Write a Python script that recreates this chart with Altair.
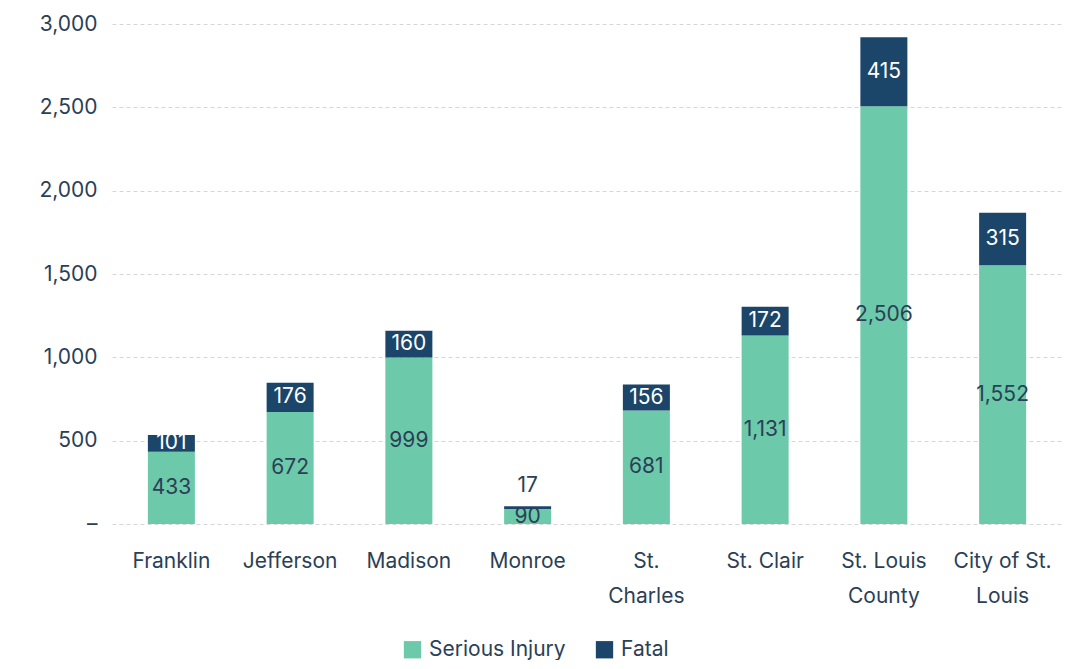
import altair as alt
import pandas as pd

counties = ["Franklin", "Jefferson", "Madison", "Monroe", "St.\nCharles",
            "St. Clair", "St. Louis\nCounty", "City of St.\nLouis"]
serious_injury = [433, 672, 999, 90, 681, 1131, 2506, 1552]
fatal = [101, 176, 160, 17, 156, 172, 415, 315]
series = ["Serious Injury", "Fatal"]
y_ticks = [0, 500, 1000, 1500, 2000, 2500, 3000]

GREEN = "#6cc9a9"
NAVY = "#1b4569"
TEXT = "#2b3f57"
FONT = "Inter"

rows = []
for c, s, f in zip(counties, serious_injury, fatal):
    rows.append({"county": c, "series": series[0], "value": s, "order": 0, "base": 0})
    rows.append({"county": c, "series": series[1], "value": f, "order": 1, "base": s})
df = pd.DataFrame(rows)

x_enc = alt.X("county:N", sort=counties, title=None,
              scale=alt.Scale(paddingInner=0.6, paddingOuter=0.3),
              axis=alt.Axis(labelExpr="split(datum.label, '\\n')", labelAngle=0,
                            labelFontSize=21, labelColor=TEXT, labelFont=FONT,
                            labelPadding=26, labelLineHeight=35, ticks=False,
                            domain=False, grid=False, labelBaseline="top"))

bars = alt.Chart(df).mark_bar(size=47).encode(
    x=x_enc,
    y=alt.Y("value:Q", stack="zero", title=None,
            scale=alt.Scale(domain=[0, 3000]),
            axis=alt.Axis(values=y_ticks, labelExpr="datum.value == 0 ? '–' : format(datum.value, ',')",
                          labelFontSize=21, labelColor=TEXT, labelFont=FONT,
                          labelPadding=15, ticks=False, domain=False,
                          grid=True, gridDash=[4, 3], gridColor="#d6d6d6", gridWidth=1)),
    color=alt.Color("series:N", sort=series,
                    scale=alt.Scale(domain=series, range=[GREEN, NAVY]),
                    legend=alt.Legend(title=None, orient="none", direction="horizontal",
                                      legendX=290, legendY=615, symbolType="square",
                                      symbolSize=300, symbolStrokeWidth=0, labelFontSize=21,
                                      labelColor=TEXT, labelFont=FONT, columnPadding=28,
                                      labelOffset=6)),
    order=alt.Order("order:Q"),
)

labels_base = alt.Chart(df).transform_calculate(
    ypos="datum.value < 50 && datum.order == 1 ? datum.base + datum.value + 120 : datum.base + datum.value / 2",
)

labels = labels_base.mark_text(font=FONT, fontSize=21, baseline="middle").encode(
    x=alt.X("county:N", sort=counties),
    y=alt.Y("ypos:Q"),
    text=alt.Text("value:Q", format=","),
    color=alt.condition("datum.order == 1 && datum.value >= 50", alt.value("#ffffff"), alt.value(TEXT)),
)

chart = alt.layer(bars, labels).properties(
    width=950, height=500,
    padding={"left": 104, "top": 16, "right": 2, "bottom": 136},
    autosize=alt.AutoSizeParams(type="none"),
    background="#ffffff",
).configure_view(strokeWidth=0, stroke="transparent")

chart.save("out.html", embed_options={"renderer": "svg", "actions": False})
